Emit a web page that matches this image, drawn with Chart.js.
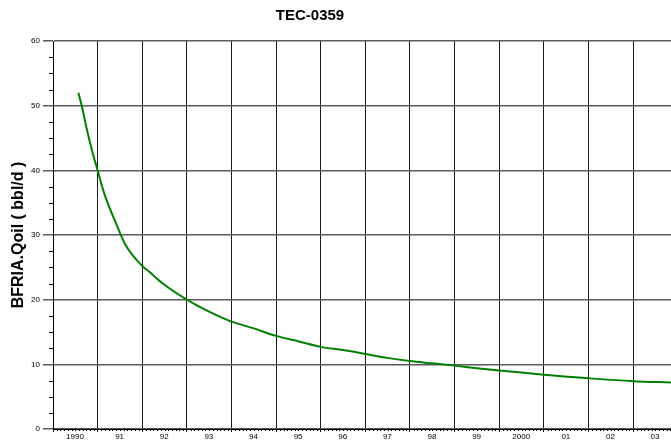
<!DOCTYPE html>
<html>
<head>
<meta charset="utf-8">
<script src="https://cdn.jsdelivr.net/npm/chart.js"></script>
<style>
  html, body { margin: 0; padding: 0; background: #fff; overflow: hidden; }
</style>
</head>
<body>
<canvas id="declineChart" width="671" height="441"></canvas>
<script>
// values (decimal years, bbl/d)
const years = [1990.57, 1990.65, 1990.75, 1990.87, 1991.0, 1991.15, 1991.4, 1991.63, 1992.0, 1992.16,
               1992.46, 1993.0, 1993.51, 1994.0, 1994.48, 1995.0, 1995.53, 1996.0, 1996.5, 1997.0,
               1997.49, 1998.0, 1998.5, 1999.0, 1999.5, 2000.0, 2000.5, 2001.0, 2002.0, 2003.0, 2003.85];
const qoil = [52.0, 49.8, 46.6, 43.2, 40.0, 36.4, 32.0, 28.4, 25.2, 24.3,
              22.5, 20.0, 18.1, 16.6, 15.6, 14.4, 13.5, 12.7, 12.2, 11.6,
              11.0, 10.5, 10.15, 9.8, 9.4, 9.05, 8.75, 8.4, 7.85, 7.4, 7.2];
const yearTicks = [1990, 1991, 1992, 1993, 1994, 1995, 1996, 1997, 1998, 1999, 2000, 2001, 2002, 2003];
const yearLabels = ["1990", "91", "92", "93", "94", "95", "96", "97", "98", "99", "2000", "01", "02", "03"];
const qoilTicks = [0, 10, 20, 30, 40, 50, 60];

const sans = "'Liberation Sans', Arial, sans-serif";

// small ticks: months on x, 2.5 bbl/d on y
const minorTicks = {
    id: 'minorTicks',
    afterDraw(chart) {
        const { ctx, chartArea, scales } = chart;
        ctx.save();
        ctx.strokeStyle = '#000';
        ctx.lineWidth = 1;
        ctx.beginPath();
        for (let m = 1990 * 12; m <= scales.x.max * 12; m++) {
            if (m % 12 === 0) continue;
            const px = Math.round(scales.x.getPixelForValue(m / 12)) + 0.5;
            ctx.moveTo(px, chartArea.bottom);
            ctx.lineTo(px, chartArea.bottom + 2);
        }
        for (let v = 2.5; v < 60; v += 2.5) {
            if (v % 10 === 0) continue;
            const py = Math.round(scales.y.getPixelForValue(v)) + 0.5;
            ctx.moveTo(chartArea.left - 4, py);
            ctx.lineTo(chartArea.left, py);
        }
        ctx.stroke();
        ctx.restore();
    }
};

const chartTitle = {
    id: 'chartTitle',
    afterDraw(chart) {
        const ctx = chart.ctx;
        ctx.save();
        ctx.fillStyle = '#000';
        ctx.font = "bold 15px " + sans;
        ctx.textAlign = 'center';
        ctx.textBaseline = 'middle';
        ctx.fillText('TEC-0359', 310, 16);
        ctx.restore();
    }
};

new Chart(document.getElementById('declineChart'), {
    type: 'line',
    data: {
        datasets: [{
            data: years.map((x, i) => ({ x: x, y: qoil[i] })),
            borderColor: '#008000',
            borderWidth: 2,
            pointRadius: 0,
            cubicInterpolationMode: 'monotone',
            fill: false
        }]
    },
    options: {
        responsive: false,
        animation: false,
        devicePixelRatio: 1,
        layout: { padding: { top: 41, right: 0, bottom: 0, left: 0 } },
        plugins: {
            legend: { display: false },
            tooltip: { enabled: false },
            title: { display: false }
        },
        scales: {
            x: {
                type: 'linear',
                min: 1990,
                max: 2003.85,
                afterBuildTicks: s => { s.ticks = yearTicks.map(v => ({ value: v })); },
                afterFit: s => { s.height = 12; },
                grid: { color: '#1a1a1a', lineWidth: 1, tickLength: 3 },
                border: { color: '#000', width: 1 },
                ticks: {
                    autoSkip: false,
                    maxRotation: 0,
                    padding: 0,
                    labelOffset: 22,
                    color: '#000',
                    font: { size: 8, family: sans },
                    callback: v => yearLabels[yearTicks.indexOf(v)]
                }
            },
            y: {
                min: 0,
                max: 60,
                afterBuildTicks: s => { s.ticks = qoilTicks.map(v => ({ value: v })); },
                afterFit: s => { s.width = 53; },
                grid: { color: '#5a5a5a', lineWidth: 1.5, tickLength: 10 },
                border: { color: '#000', width: 1 },
                ticks: {
                    padding: 3,
                    color: '#000',
                    font: { size: 8, family: sans }
                },
                title: {
                    display: true,
                    text: 'BFRIA.Qoil ( bbl/d )',
                    color: '#000',
                    font: { size: 16, weight: 'bold', family: sans },
                    padding: { top: 9, bottom: 0 }
                }
            }
        }
    },
    plugins: [minorTicks, chartTitle]
});
</script>
</body>
</html>
